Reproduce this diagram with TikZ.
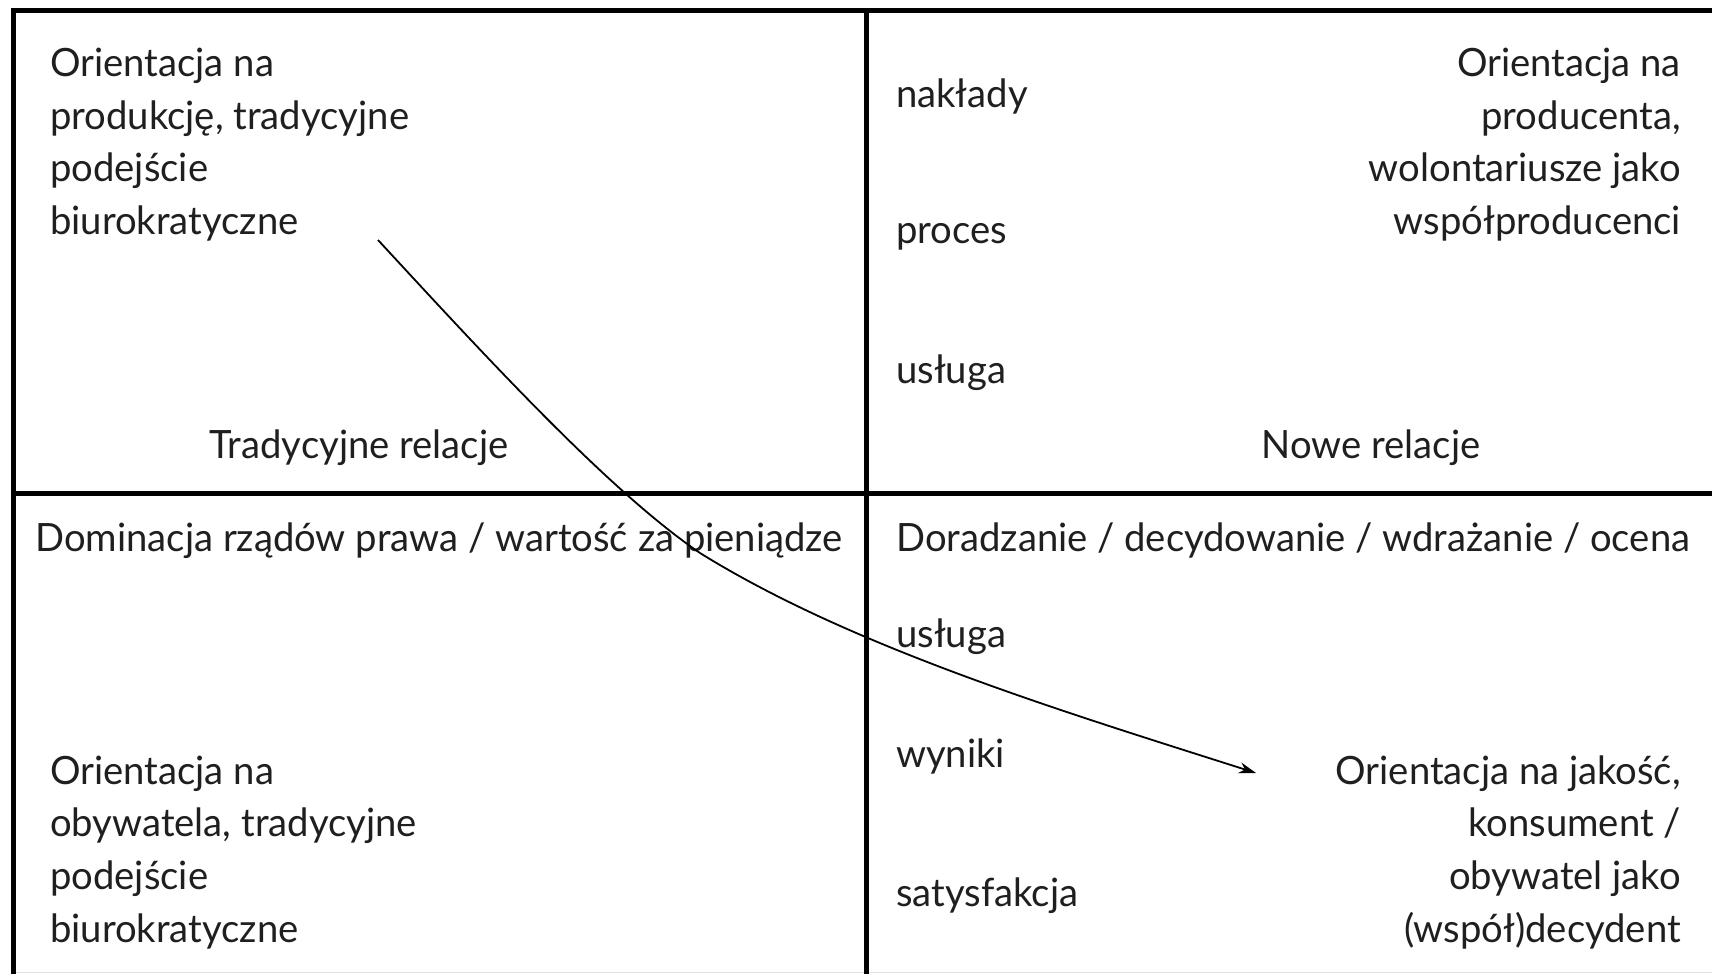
\documentclass[tikz,border=0pt]{standalone}
\usepackage{fontspec}
\setmainfont{Lato}[FakeStretch=0.98]
\usetikzlibrary{arrows.meta}
\begin{document}
\begin{tikzpicture}[x=1pt,y=-1pt,
  every node/.style={inner sep=0pt, font=\fontsize{39}{47}\selectfont, text=black!88},
  lab/.style={anchor=base west},
  rab/.style={anchor=base east},
  cab/.style={anchor=base},
  frame/.style={line width=5pt, line join=miter},
  conn/.style={line width=1.8pt, -{Stealth[length=17pt,width=11pt]}}]
\useasboundingbox (0,0) rectangle (1712,974);
% frame
\draw[black!12, line width=1.5pt] (13,972.5) -- (1712,972.5);
\draw[frame] (13,974) -- (13,11) -- (1712,11);
\draw[frame] (13,493.5) -- (1712,493.5);
\draw[frame] (866,11) -- (866,974);
% top left
\node[lab] (tl1) at (50,76) {Orientacja na};
\node[lab] (tl2) at (50,129) {produkcję, tradycyjne};
\node[lab] (tl3) at (50,181) {podejście};
\node[lab] (tl4) at (50,234) {biurokratyczne};
\node[cab] (trad) at (359,458) {Tradycyjne relacje};
% top right
\node[lab] (nak) at (896,107) {nakłady};
\node[lab] (proc) at (896,243) {proces};
\node[lab] (usl1) at (896,383) {usługa};
\node[rab] (tr1) at (1681,76) {Orientacja na};
\node[rab] (tr2) at (1681,129) {producenta,};
\node[rab] (tr3) at (1681,181) {wolontariusze jako};
\node[rab] (tr4) at (1681,234) {współproducenci};
\node[cab] (nowe) at (1371,458) {Nowe relacje};
% bottom left
\node[cab] (dom) at (439,551) {Dominacja rządów prawa / wartość za pieniądze};
\node[lab] (bl1) at (50,784) {Orientacja na};
\node[lab] (bl2) at (50,836) {obywatela, tradycyjne};
\node[lab] (bl3) at (50,889) {podejście};
\node[lab] (bl4) at (50,942) {biurokratyczne};
% bottom right
\node[lab] (dor) at (896,551) {Doradzanie / decydowanie / wdrażanie / ocena};
\node[lab] (usl2) at (896,647) {usługa};
\node[lab] (wyn) at (896,767) {wyniki};
\node[lab] (sat) at (896,906) {satysfakcja};
\node[rab] (br1) at (1681,784) {Orientacja na jakość,};
\node[rab] (br2) at (1681,836) {konsument /};
\node[rab] (br3) at (1681,889) {obywatel jako};
\node[rab] (br4) at (1681,942) {(współ)decydent};
% arrow
\coordinate (s) at (378,240);
\coordinate (m) at (700,553);
\coordinate (e) at (1256,773);
\draw[conn] (s) .. controls (487,358) and (609,491) .. (m)
  .. controls (853,648) and (1065.4,712.2) .. (e);
\end{tikzpicture}
\end{document}
